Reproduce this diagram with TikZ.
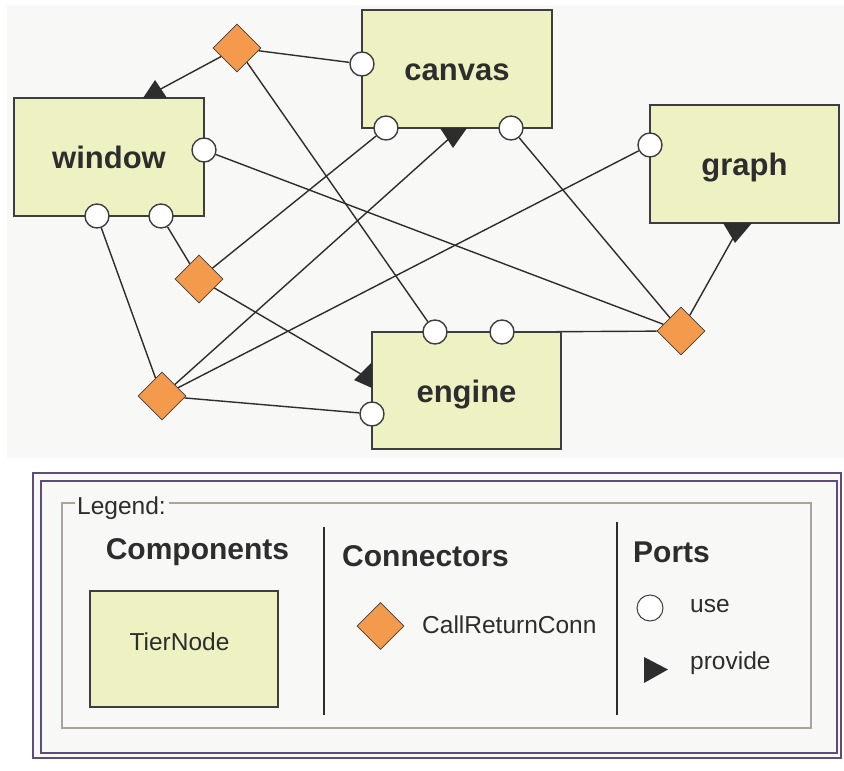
\documentclass[tikz,border=0pt]{standalone}
\usepackage{fontspec}
\setmainfont{Liberation Sans}
\usetikzlibrary{shapes.geometric}
\definecolor{bgc}{RGB}{248,248,246}
\definecolor{boxfill}{RGB}{238,242,194}
\definecolor{edgec}{RGB}{62,62,62}
\definecolor{connfill}{RGB}{243,154,76}
\definecolor{framec}{RGB}{96,76,124}
\definecolor{grpc}{RGB}{168,164,158}
\definecolor{ink}{RGB}{45,45,45}
\pgfdeclarelayer{back}
\pgfdeclarelayer{wires}
\pgfsetlayers{back,wires,main}
\begin{document}
\begin{tikzpicture}[x=1pt,y=-1pt,
  comp/.style={draw=edgec,line width=2pt,fill=boxfill,minimum width=190pt,minimum height=118pt,inner sep=0pt,text=ink,font=\fontsize{31}{36}\selectfont\bfseries,text height=23pt,text depth=0pt},
  useport/.style={circle,draw=edgec,line width=1.4pt,fill=white,minimum size=24pt,inner sep=0pt},
  connector/.style={diamond,draw=edgec,line width=0.8pt,fill=connfill,minimum width=48pt,minimum height=48pt,inner sep=0pt},
  wire/.style={draw=ink,line width=1.4pt},
  prov/.style={fill=ink},
  heading/.style={text=ink,font=\fontsize{30}{36}\selectfont\bfseries,inner sep=0pt},
  plain/.style={text=ink,font=\fontsize{24.5}{30}\selectfont,inner sep=0pt},
]
\useasboundingbox (0,0) rectangle (844,771);
\begin{pgfonlayer}{back}
\fill[white] (0,0) rectangle (844,771);
\fill[bgc] (7,5) rectangle (844,458);
\fill[bgc] (33,473) rectangle (841,758);
\end{pgfonlayer}

% components
\node[comp] (canvas) at (457,69) {canvas};
\node[comp] (window) at (109,157) {window};
\node[comp,minimum width=189pt] (graph) at (744.5,164) {graph};
\node[comp,minimum width=189pt,minimum height=117pt] (engine) at (466.5,390.5) {engine};

% use ports
\node[useport] (cL) at (362,64) {};
\node[useport] (cB1) at (386,128) {};
\node[useport] (cB2) at (511,128) {};
\node[useport] (wR) at (204,150) {};
\node[useport] (wB1) at (97,216) {};
\node[useport] (wB2) at (161,216) {};
\node[useport] (gL) at (650,145) {};
\node[useport] (eTL) at (435,332) {};
\node[useport] (eTR) at (502,332) {};
\node[useport] (eL) at (372,414) {};

% provide ports
\fill[prov] (143,98) -- (167,98) -- (155,80) -- cycle;
\coordinate (wP) at (157,91);
\fill[prov] (440,128) -- (467,128) -- (453,148) -- cycle;
\coordinate (cP) at (452,136);
\fill[prov] (723,223) -- (752,223) -- (735,243) -- cycle;
\coordinate (gP) at (737,231);
\fill[prov] (372,362) -- (372,388) -- (354,380) -- cycle;
\coordinate (eP) at (366,377);

% connectors
\node[connector] (d1) at (237,48) {};
\node[connector] (d2) at (199,279) {};
\node[connector] (d3) at (162,396) {};
\node[connector] (d4) at (681,331) {};

\begin{pgfonlayer}{wires}
\draw[wire] (d1) -- (wP);
\draw[wire] (d1) -- (cL);
\draw[wire] (d1) -- (eTL);
\draw[wire] (d2) -- (wB2);
\draw[wire] (d2) -- (cB1);
\draw[wire] (d2) -- (eP);
\draw[wire] (d3) -- (wB1);
\draw[wire] (d3) -- (cP);
\draw[wire] (d3) -- (gL);
\draw[wire] (d3) -- (eL);
\draw[wire] (d4) -- (wR);
\draw[wire] (d4) -- (cB2);
\draw[wire] (d4) -- (gP);
\draw[wire] (d4) -- (eTR);
\end{pgfonlayer}

% legend frame
\draw[framec,line width=2pt] (33,473) rectangle (841,758);
\draw[framec,line width=2pt] (41,481) rectangle (837,753);
\draw[grpc,line width=1.5pt] (75,503) -- (62,503) -- (62,728) -- (811,728) -- (811,503) -- (169,503);
\node[plain,anchor=base west] (lg) at (77,514) {Legend:};
\draw[ink,line width=2pt] (324,527) -- (324,715);
\draw[ink,line width=2pt] (617,522) -- (617,715);

\node[heading,anchor=base] (hcomp) at (197.5,559) {Components};
\node[heading,anchor=base west] (hconn) at (342,566) {Connectors};
\node[heading,anchor=base west] (hport) at (633,562) {Ports};

\node[draw=edgec,line width=2pt,fill=boxfill,minimum width=188pt,minimum height=116pt,inner sep=0pt] (tn) at (184,649) {};
\node[plain,anchor=base] (tnl) at (179.5,650) {TierNode};

\node[connector,minimum width=47pt,minimum height=47pt] (ld) at (380.5,626) {};
\node[plain,anchor=base west] (ldl) at (422,633) {CallReturnConn};

\node[useport,minimum size=26pt,line width=1pt] (lu) at (650,608) {};
\node[plain,anchor=base west] (lul) at (690,612) {use};
\fill[prov] (644,657) -- (668,669.5) -- (644,683) -- cycle;
\node[plain,anchor=base west] (lpl) at (690,669) {provide};
\end{tikzpicture}
\end{document}
